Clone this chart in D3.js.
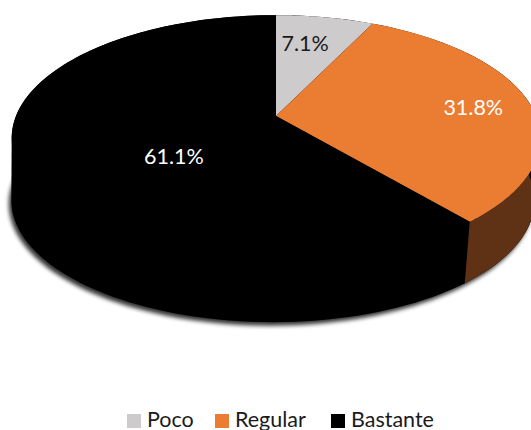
<!DOCTYPE html>
<html><head><meta charset="utf-8">
<script src="https://cdn.jsdelivr.net/npm/d3@7"></script>
<style>html,body{margin:0;padding:0;background:#fff;overflow:hidden}svg{display:block}text{font-family:Lato,"Open Sans",sans-serif}</style>
</head><body><svg id="c" width="531" height="430"></svg>
<script>
const categories = ["Poco","Regular","Bastante"];
const shares = [7.1,31.8,61.1];
const labels = ["7.1%","31.8%","61.1%"];
const topColors = ["#cdcbcc","#eb7d32","#000000"];
const wallColors = ["#6e6d6e","#5f3316","#000000"];
const labelColors = ["#1a1a1a","#ffffff","#ffffff"];
const labelFraction = [0.75,0.75,0.45];
const labelNudge = [[-9,4],[7,2],[11,21]];
const legendX = [127,215,331];

const cx=276, cy=116, R=260, ry=119, k=0.18, depth=62.5, lowerScale=0.99, lowerShift=-3;
const svg=d3.select("#c");
const defs=svg.append("defs");
defs.append("filter").attr("id","shadow").attr("x","-10%").attr("y","-10%").attr("width","120%").attr("height","120%")
  .append("feGaussianBlur").attr("stdDeviation",2);
defs.append("filter").attr("id","soft").attr("x","-5%").attr("y","-5%").attr("width","110%").attr("height","110%")
  .append("feGaussianBlur").attr("stdDeviation",0.4);

// perspective projection of a disc point at angle a (clockwise from top), radial fraction f
function proj(a,f=1,lower=false){
  const u=f*Math.sin(a), v=-f*Math.cos(a), w=1-k*v, s=lower?lowerScale:1;
  return [cx+(lower?lowerShift:0)+s*R*u/w, cy+(lower?depth:0)+s*ry*v/w];
}
const arcs=d3.pie().sort(null).value(d=>d)(shares);
const line=d3.line();
const arcPts=(a0,a1,lower)=>d3.range(0,181).map(i=>proj(a0+(a1-a0)*i/180,1,lower));
const sector=(a)=>line([[cx,cy],...arcPts(a.startAngle,a.endAngle,false)])+"Z";
const disc=(lower)=>line(arcPts(0,2*Math.PI,lower))+"Z";
const bodyHull=line(d3.polygonHull([...arcPts(0,2*Math.PI,false),...arcPts(0,2*Math.PI,true)]))+"Z";

// soft shadow below the body
svg.append("path").attr("d",disc(true)).attr("fill","#000").attr("opacity",0.8)
  .attr("transform","translate(-2.5,3.5)").attr("filter","url(#shadow)");

const g=svg.append("g").attr("filter","url(#soft)");
// body silhouette takes the colour of the biggest slice's wall
g.append("path").attr("d",bodyHull).attr("fill",wallColors[2]);
// front wall of the other visible slice
arcs.forEach((a,i)=>{
  if(i===2) return;
  const from=Math.max(a.startAngle,Math.PI*0.3), to=a.endAngle;
  if(to<=from) return;
  g.append("path").attr("fill",wallColors[i])
   .attr("d",line([...arcPts(from,to,false),...arcPts(from,to,true).reverse()])+"Z");
});
// top surface
g.selectAll("path.top").data(arcs).join("path").attr("class","top")
  .attr("d",sector).attr("fill",(d,i)=>topColors[i]);

// data labels
svg.selectAll("text.lab").data(arcs).join("text").attr("class","lab")
  .attr("x",(d,i)=>proj((d.startAngle+d.endAngle)/2,labelFraction[i])[0]+labelNudge[i][0])
  .attr("y",(d,i)=>proj((d.startAngle+d.endAngle)/2,labelFraction[i])[1]+labelNudge[i][1])
  .attr("text-anchor","middle").attr("dominant-baseline","central")
  .attr("font-size",21.5).attr("fill",(d,i)=>labelColors[i]).text((d,i)=>labels[i]);

// legend
const lg=svg.selectAll("g.lg").data(categories).join("g").attr("class","lg")
  .attr("transform",(d,i)=>`translate(${legendX[i]},414)`);
lg.append("rect").attr("width",14).attr("height",14).attr("fill",(d,i)=>topColors[i]);
lg.append("text").attr("x",20).attr("y",12.5).attr("font-size",21.5).attr("fill","#1a1a1a").text(d=>d);
</script></body></html>
